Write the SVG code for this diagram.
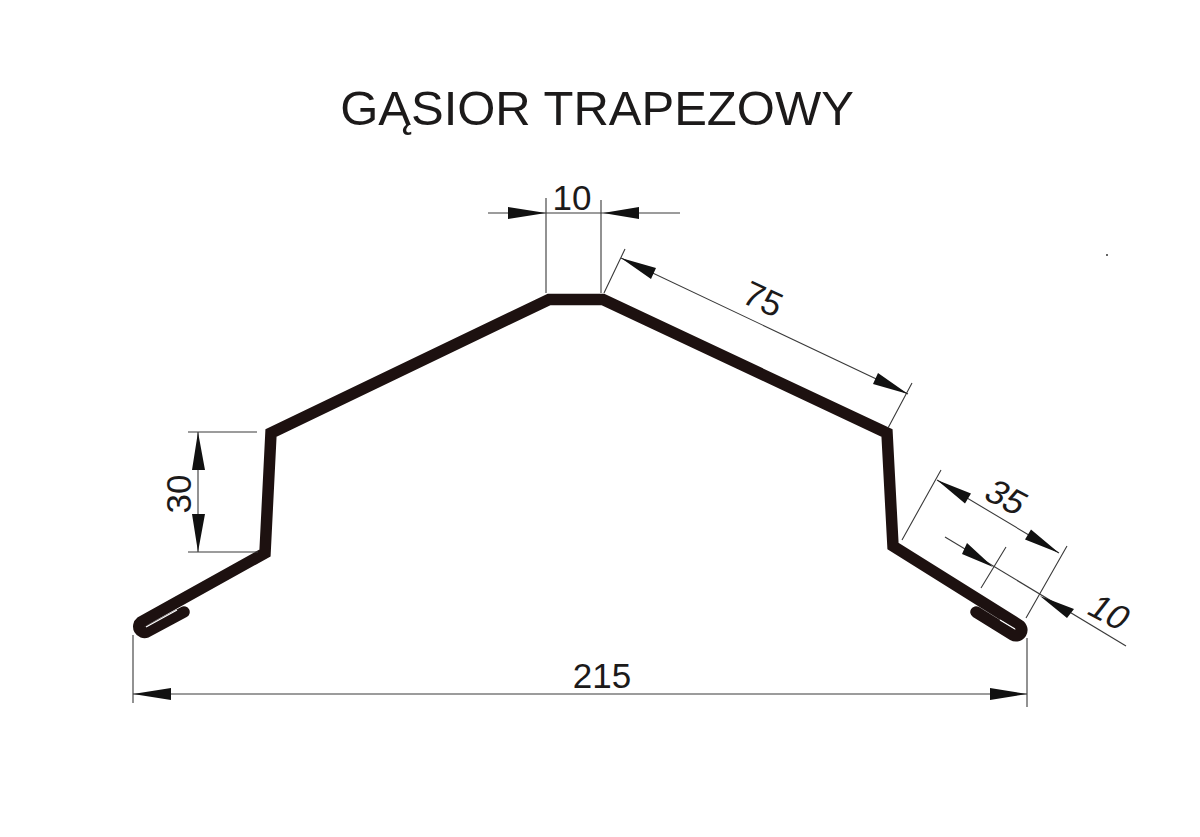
<svg xmlns="http://www.w3.org/2000/svg" width="1200" height="837" viewBox="0 0 1200 837">
<style>
text{font-family:"Liberation Sans",Arial,sans-serif;fill:#1c1a1a;text-anchor:middle}
.t{font-size:49px}.d{font-size:35px}
.p{fill:none;stroke:#1d1110;stroke-width:11.5;stroke-linejoin:miter;stroke-linecap:round}
.l{fill:none;stroke:#3a3a3a;stroke-width:1.100}
.a{fill:#111}
</style>
<rect width="1200" height="837" fill="#fff"/>
<text class="t" x="597" y="125" id="title">GĄSIOR TRAPEZOWY</text>
<g id="profile">
<path class="p" d="M184,612L146.600,632A5.800,5.800 0 0 1 141,622L265,553L271,433L549,299.500H603L887,433L893,546L1019,625A5.800,5.800 0 0 1 1013,635L976,612"/>
<path d="M146,627L177,610M1000,620L1015,629" fill="none" stroke="#fff" stroke-width="1.300"/>
</g>
<g id="connectors">
<path class="l" d="M546,198V293M601,200V293M604,293L625,249M888,428L912,383M188,432H257M188,552H258M133,635V703M1027,638V707M902,540L941,470M1026,618L1067,546M981,588L1006,547"/>
<path class="l" d="M488,213H680"/>
<path class="l" d="M945,537L1126,646"/>
<path class="l" d="M621,258L908,394M198,432V552M133,694H1027M937,480L1059,553"/>
<path class="a" d="M546,213L508,207V219ZM603,213L639,207V219ZM198,432L192,470H205ZM198,552L192,514H205ZM133,694L171,688V700ZM1027,694L990,688V700Z"/>
<path class="a" d="M621,258L656,268L651,279ZM908,394L878,373L873,384ZM937,480L971,493.400L965,503.600ZM1059,553L1031,529.400L1025,539.600ZM993,567L967,543L962,554ZM1040,596L1074,609L1067,618Z"/>
</g>
<g id="labels">
<text class="d" x="572" y="210">10</text>
<text class="d" transform="translate(758,310) rotate(25)">75</text>
<text class="d" transform="translate(191,494) rotate(-90)">30</text>
<text class="d" x="602" y="688">215</text>
<text class="d" transform="translate(999,507) rotate(28) skewX(-10)">35</text>
<text class="d" transform="translate(1102,622) rotate(28) skewX(-10)">10</text>
</g>
<circle cx="1107" cy="255" r="1" fill="#333"/>
</svg>
